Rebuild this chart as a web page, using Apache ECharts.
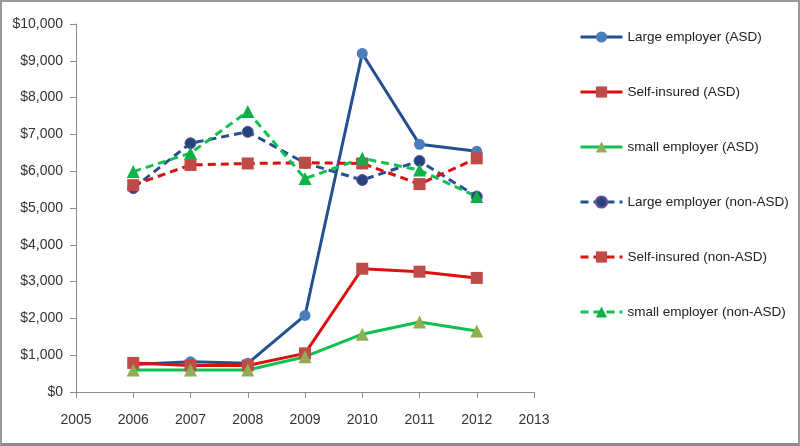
<!DOCTYPE html>
<html><head><meta charset="utf-8">
<script src="https://cdn.jsdelivr.net/npm/echarts@6/dist/echarts.min.js"></script>
<style>
html,body{margin:0;padding:0;background:#fff;}
#c{width:800px;height:446px;box-sizing:border-box;border:2px solid #9a9a9a;border-bottom:3px solid #8a8a8a;}
</style></head>
<body><div id="c"></div>
<script>
const years = [2006, 2007, 2008, 2009, 2010, 2011, 2012];
const largeASD = [750, 820, 780, 2080, 9200, 6730, 6540];
const selfASD = [790, 720, 720, 1050, 3350, 3270, 3100];
const smallASD = [600, 600, 600, 960, 1570, 1900, 1660];
const largeNon = [5540, 6760, 7070, 6220, 5760, 6280, 5310];
const selfNon = [5620, 6170, 6210, 6230, 6210, 5650, 6350];
const smallNon = [5990, 6490, 7620, 5800, 6350, 6030, 5310];
const names = ['Large employer (ASD)', 'Self-insured (ASD)', 'small employer (ASD)',
  'Large employer (non-ASD)', 'Self-insured (non-ASD)', 'small employer (non-ASD)'];

const pair = arr => years.map((y, i) => [y, arr[i]]);
const FONT = '"Liberation Sans", Arial, sans-serif';

function mk(name, data, color, mColor, mBorder, symbol, size, dashed) {
  return {
    name, type: 'line', data: pair(data), symbol, symbolSize: size,
    lineStyle: { color, width: 3, type: dashed ? [8, 5] : 'solid' },
    itemStyle: { color: mColor, borderColor: mBorder, borderWidth: mBorder ? 1 : 0 },
    emphasis: { disabled: true }
  };
}

const chart = echarts.init(document.getElementById('c'));
chart.setOption({
  animation: false,
  grid: { left: 74, right: 264, top: 22, bottom: 51 },
  xAxis: {
    type: 'value', min: 2005, max: 2013, interval: 1,
    axisLine: { lineStyle: { color: '#8c8c8c', width: 1 } },
    axisTick: { show: true, length: 6, lineStyle: { color: '#8c8c8c' } },
    splitLine: { show: false },
    axisLabel: { formatter: v => String(v), color: '#333', fontFamily: FONT, fontSize: 14, margin: 21 }
  },
  yAxis: {
    type: 'value', min: 0, max: 10000, interval: 1000,
    axisLine: { show: true, lineStyle: { color: '#8c8c8c', width: 1 } },
    axisTick: { show: true, length: 6, lineStyle: { color: '#8c8c8c' } },
    splitLine: { show: false },
    axisLabel: { formatter: v => '$' + v.toLocaleString('en-US'), color: '#333', fontFamily: FONT, fontSize: 14, margin: 13 }
  },
  legend: {
    orient: 'vertical', left: 572, top: 23, itemWidth: 42, itemHeight: 14, itemGap: 41,
    lineStyle: { width: 3 },
    textStyle: { color: '#222', fontFamily: FONT, fontSize: 13.5 },
    data: names
  },
  series: [
    mk(names[0], largeASD, '#25508f', '#4a7ebb', null, 'circle', 11, false),
    mk(names[1], selfASD, '#dd1010', '#be4b48', null, 'rect', 12, false),
    mk(names[2], smallASD, '#10c050', '#8eae53', null, 'triangle', 13, false),
    mk(names[3], largeNon, '#25508f', '#22457e', '#6b4f9a', 'circle', 11, true),
    mk(names[4], selfNon, '#dd1010', '#be4b48', null, 'rect', 12, true),
    mk(names[5], smallNon, '#10c050', '#10b048', null, 'triangle', 13, true)
  ]
});
</script></body></html>
